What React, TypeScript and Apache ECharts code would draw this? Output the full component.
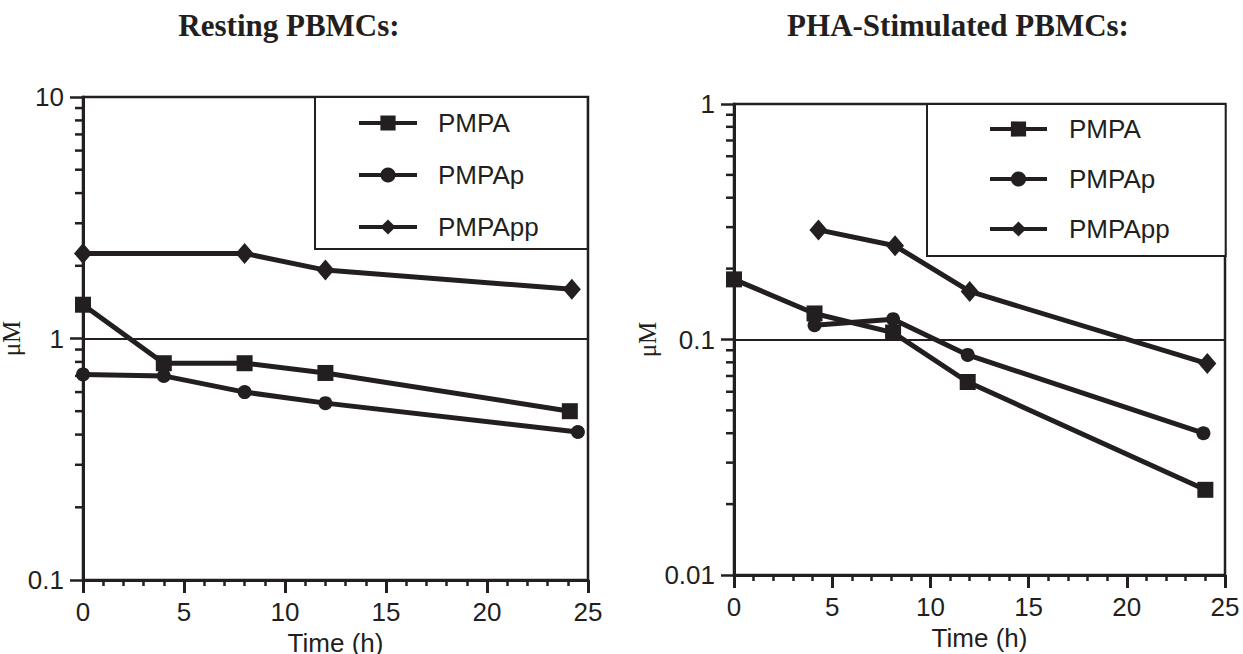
import React, { useEffect, useRef } from 'react';
import * as echarts from 'echarts';

const INK = '#231f20';
const SANS = '"Liberation Sans", Arial, sans-serif';
const SERIF = '"Liberation Serif", "Times New Roman", serif';

// ---- Data ----
const seriesNames = ['PMPA', 'PMPAp', 'PMPApp'];
const seriesSymbols = ['rect', 'circle', 'diamond'];

// Resting PBMCs
const restTimePMPA = [0, 4, 8, 12, 24.1];
const restPMPA = [1.38, 0.79, 0.79, 0.72, 0.5];
const restTimePMPAp = [0, 4, 8, 12, 24.5];
const restPMPAp = [0.71, 0.7, 0.6, 0.54, 0.41];
const restTimePMPApp = [0, 8, 12, 24.2];
const restPMPApp = [2.25, 2.25, 1.92, 1.6];

// PHA-stimulated PBMCs
const phaTimePMPA = [0, 4.1, 8.1, 11.9, 24];
const phaPMPA = [0.18, 0.129, 0.107, 0.066, 0.023];
const phaTimePMPAp = [4.1, 8.1, 11.9, 23.9];
const phaPMPAp = [0.115, 0.122, 0.086, 0.04];
const phaTimePMPApp = [4.3, 8.2, 12, 24.1];
const phaPMPApp = [0.292, 0.25, 0.16, 0.079];

const titles = ['Resting PBMCs:', 'PHA-Stimulated PBMCs:'];
const xName = 'Time (h)';
const yName = 'μM';
const xMin = 0;
const xMax = 25;
const xStep = 5;
const restYRange = [0.1, 10];
const phaYRange = [0.01, 1];

const pairs = (xs: number[], ys: number[]) => xs.map((x, i) => [x, ys[i]]);

// minor log ticks (2..9 within each decade) — axis decoration
const minorLogTicks = (lo: number, hi: number) => {
  const out: number[] = [];
  for (let e = Math.round(Math.log10(lo)); e < Math.round(Math.log10(hi)); e++) {
    for (let k = 2; k <= 9; k++) out.push(Number((k * Math.pow(10, e)).toPrecision(3)));
  }
  return out;
};

export default function App() {
  const ref = useRef<HTMLDivElement>(null);

  useEffect(() => {
    if (!ref.current) return;
    const chart = echarts.init(ref.current, null, { renderer: 'svg' });

    const grids = [
      { left: 83, top: 97, width: 505, height: 483 },
      { left: 734, top: 104, width: 491, height: 471 },
    ];
    const yRanges = [restYRange, phaYRange];
    const nameGaps = [34, 55];

    const xAxis = grids.map((_, i) => ({
      gridIndex: i,
      type: 'value',
      min: xMin,
      max: xMax,
      interval: xStep,
      axisLine: { show: true, onZero: false, lineStyle: { color: INK, width: 3 } },
      axisTick: { show: true, length: 13, lineStyle: { color: INK, width: 3 } },
      minorTick: { show: true, splitNumber: 5, length: 6, lineStyle: { color: INK, width: 2.5 } },
      axisLabel: { color: INK, fontSize: 26, fontFamily: SANS, margin: 19 },
      splitLine: { show: false },
      minorSplitLine: { show: false },
      name: xName,
      nameLocation: 'middle',
      nameGap: 41,
      nameTextStyle: { color: INK, fontSize: 26, fontFamily: SANS },
    }));

    const yAxis = grids.map((_, i) => {
      const [lo, hi] = yRanges[i];
      return {
        gridIndex: i,
        type: 'log',
        logBase: 10,
        min: lo,
        max: hi,
        position: 'left',
        axisLine: { show: true, onZero: false, lineStyle: { color: INK, width: 3 } },
        axisTick: { show: true, length: 13, lineStyle: { color: INK, width: 2.5 } },
        axisLabel: {
          color: INK,
          fontSize: 26,
          fontFamily: SANS,
          margin: 19,
          formatter: (v: number) => String(Number(v.toPrecision(3))),
        },
        splitLine: { show: true, lineStyle: { color: INK, width: 2 } },
        name: yName,
        nameLocation: 'middle',
        nameGap: nameGaps[i],
        nameTextStyle: { color: INK, fontSize: 25, fontFamily: SERIF },
      };
    });

    const panelData = [
      [pairs(restTimePMPA, restPMPA), pairs(restTimePMPAp, restPMPAp), pairs(restTimePMPApp, restPMPApp)],
      [pairs(phaTimePMPA, phaPMPA), pairs(phaTimePMPAp, phaPMPAp), pairs(phaTimePMPApp, phaPMPApp)],
    ];
    const symbolSizes: any[] = [16, 14, [18, 21]];

    const series: any[] = [];
    panelData.forEach((sets, i) => {
      sets.forEach((data, k) => {
        series.push({
          type: 'line',
          name: seriesNames[k],
          xAxisIndex: i,
          yAxisIndex: i,
          data,
          symbol: seriesSymbols[k],
          symbolSize: symbolSizes[k],
          showSymbol: true,
          itemStyle: { color: INK },
          lineStyle: { color: INK, width: 5 },
          z: 3,
        });
      });
    });

    const legendBase = {
      data: seriesNames,
      orient: 'vertical',
      borderColor: INK,
      borderWidth: 2,
      borderRadius: 0,
      backgroundColor: '#ffffff',
      itemHeight: 19,
      selectedMode: false,
      lineStyle: { width: 4 },
      textStyle: { color: INK, fontSize: 26, fontFamily: SANS, lineHeight: 26 },
    };

    const titleGraphics = [
      { x: 289, text: titles[0] },
      { x: 958, text: titles[1] },
    ].map((t) => ({
      type: 'text',
      x: t.x,
      y: 25,
      style: {
        text: t.text,
        fill: INK,
        fontSize: 31,
        fontWeight: 'bold',
        fontFamily: SERIF,
        textAlign: 'center',
        textVerticalAlign: 'middle',
      },
    }));

    chart.setOption({
      animation: false,
      backgroundColor: '#ffffff',
      grid: grids.map((g) => ({
        ...g,
        show: true,
        borderColor: INK,
        borderWidth: 2.5,
        backgroundColor: 'transparent',
        containLabel: false,
        outerBoundsMode: 'none',
      })),
      xAxis,
      yAxis,
      series,
      legend: [
        {
          ...legendBase,
          left: 315,
          top: 97,
          padding: [13, 49, 9, 42],
          itemWidth: 58,
          itemGap: 26,
          textStyle: { ...legendBase.textStyle, padding: [0, 0, 0, 16] },
        },
        {
          ...legendBase,
          left: 927,
          top: 104,
          padding: [12, 56, 14, 61],
          itemWidth: 57,
          itemGap: 24,
          textStyle: { ...legendBase.textStyle, padding: [0, 0, 0, 17] },
        },
      ],
    });

    // minor ticks of the log axes, positioned through each panel's own scales
    const tickGraphics: any[] = [];
    grids.forEach((g, i) => {
      const [lo, hi] = yRanges[i];
      minorLogTicks(lo, hi).forEach((v) => {
        let p: any = null;
        try {
          p = chart.convertToPixel({ seriesIndex: i * 3 }, [xMin, v]);
        } catch (e) {
          p = null;
        }
        const bad =
          !p ||
          isNaN(p[0]) ||
          isNaN(p[1]) ||
          Math.abs(p[0] - g.left) > 3 ||
          p[1] < g.top - 1 ||
          p[1] > g.top + g.height + 1;
        if (bad) {
          const t = (Math.log10(hi) - Math.log10(v)) / (Math.log10(hi) - Math.log10(lo));
          p = [g.left, g.top + t * g.height];
        }
        tickGraphics.push({
          type: 'rect',
          z: 100,
          shape: { x: p[0] - 8, y: p[1] - 1.25, width: 8, height: 2.5 },
          style: { fill: INK },
        });
      });
    });
    chart.setOption({
      graphic: {
        elements: [...titleGraphics, ...tickGraphics],
      },
    });

    return () => chart.dispose();
  }, []);

  return (
    <div
      ref={ref}
      style={{ position: 'fixed', left: 0, top: 0, width: 1243, height: 654, background: '#fff' }}
    />
  );
}
